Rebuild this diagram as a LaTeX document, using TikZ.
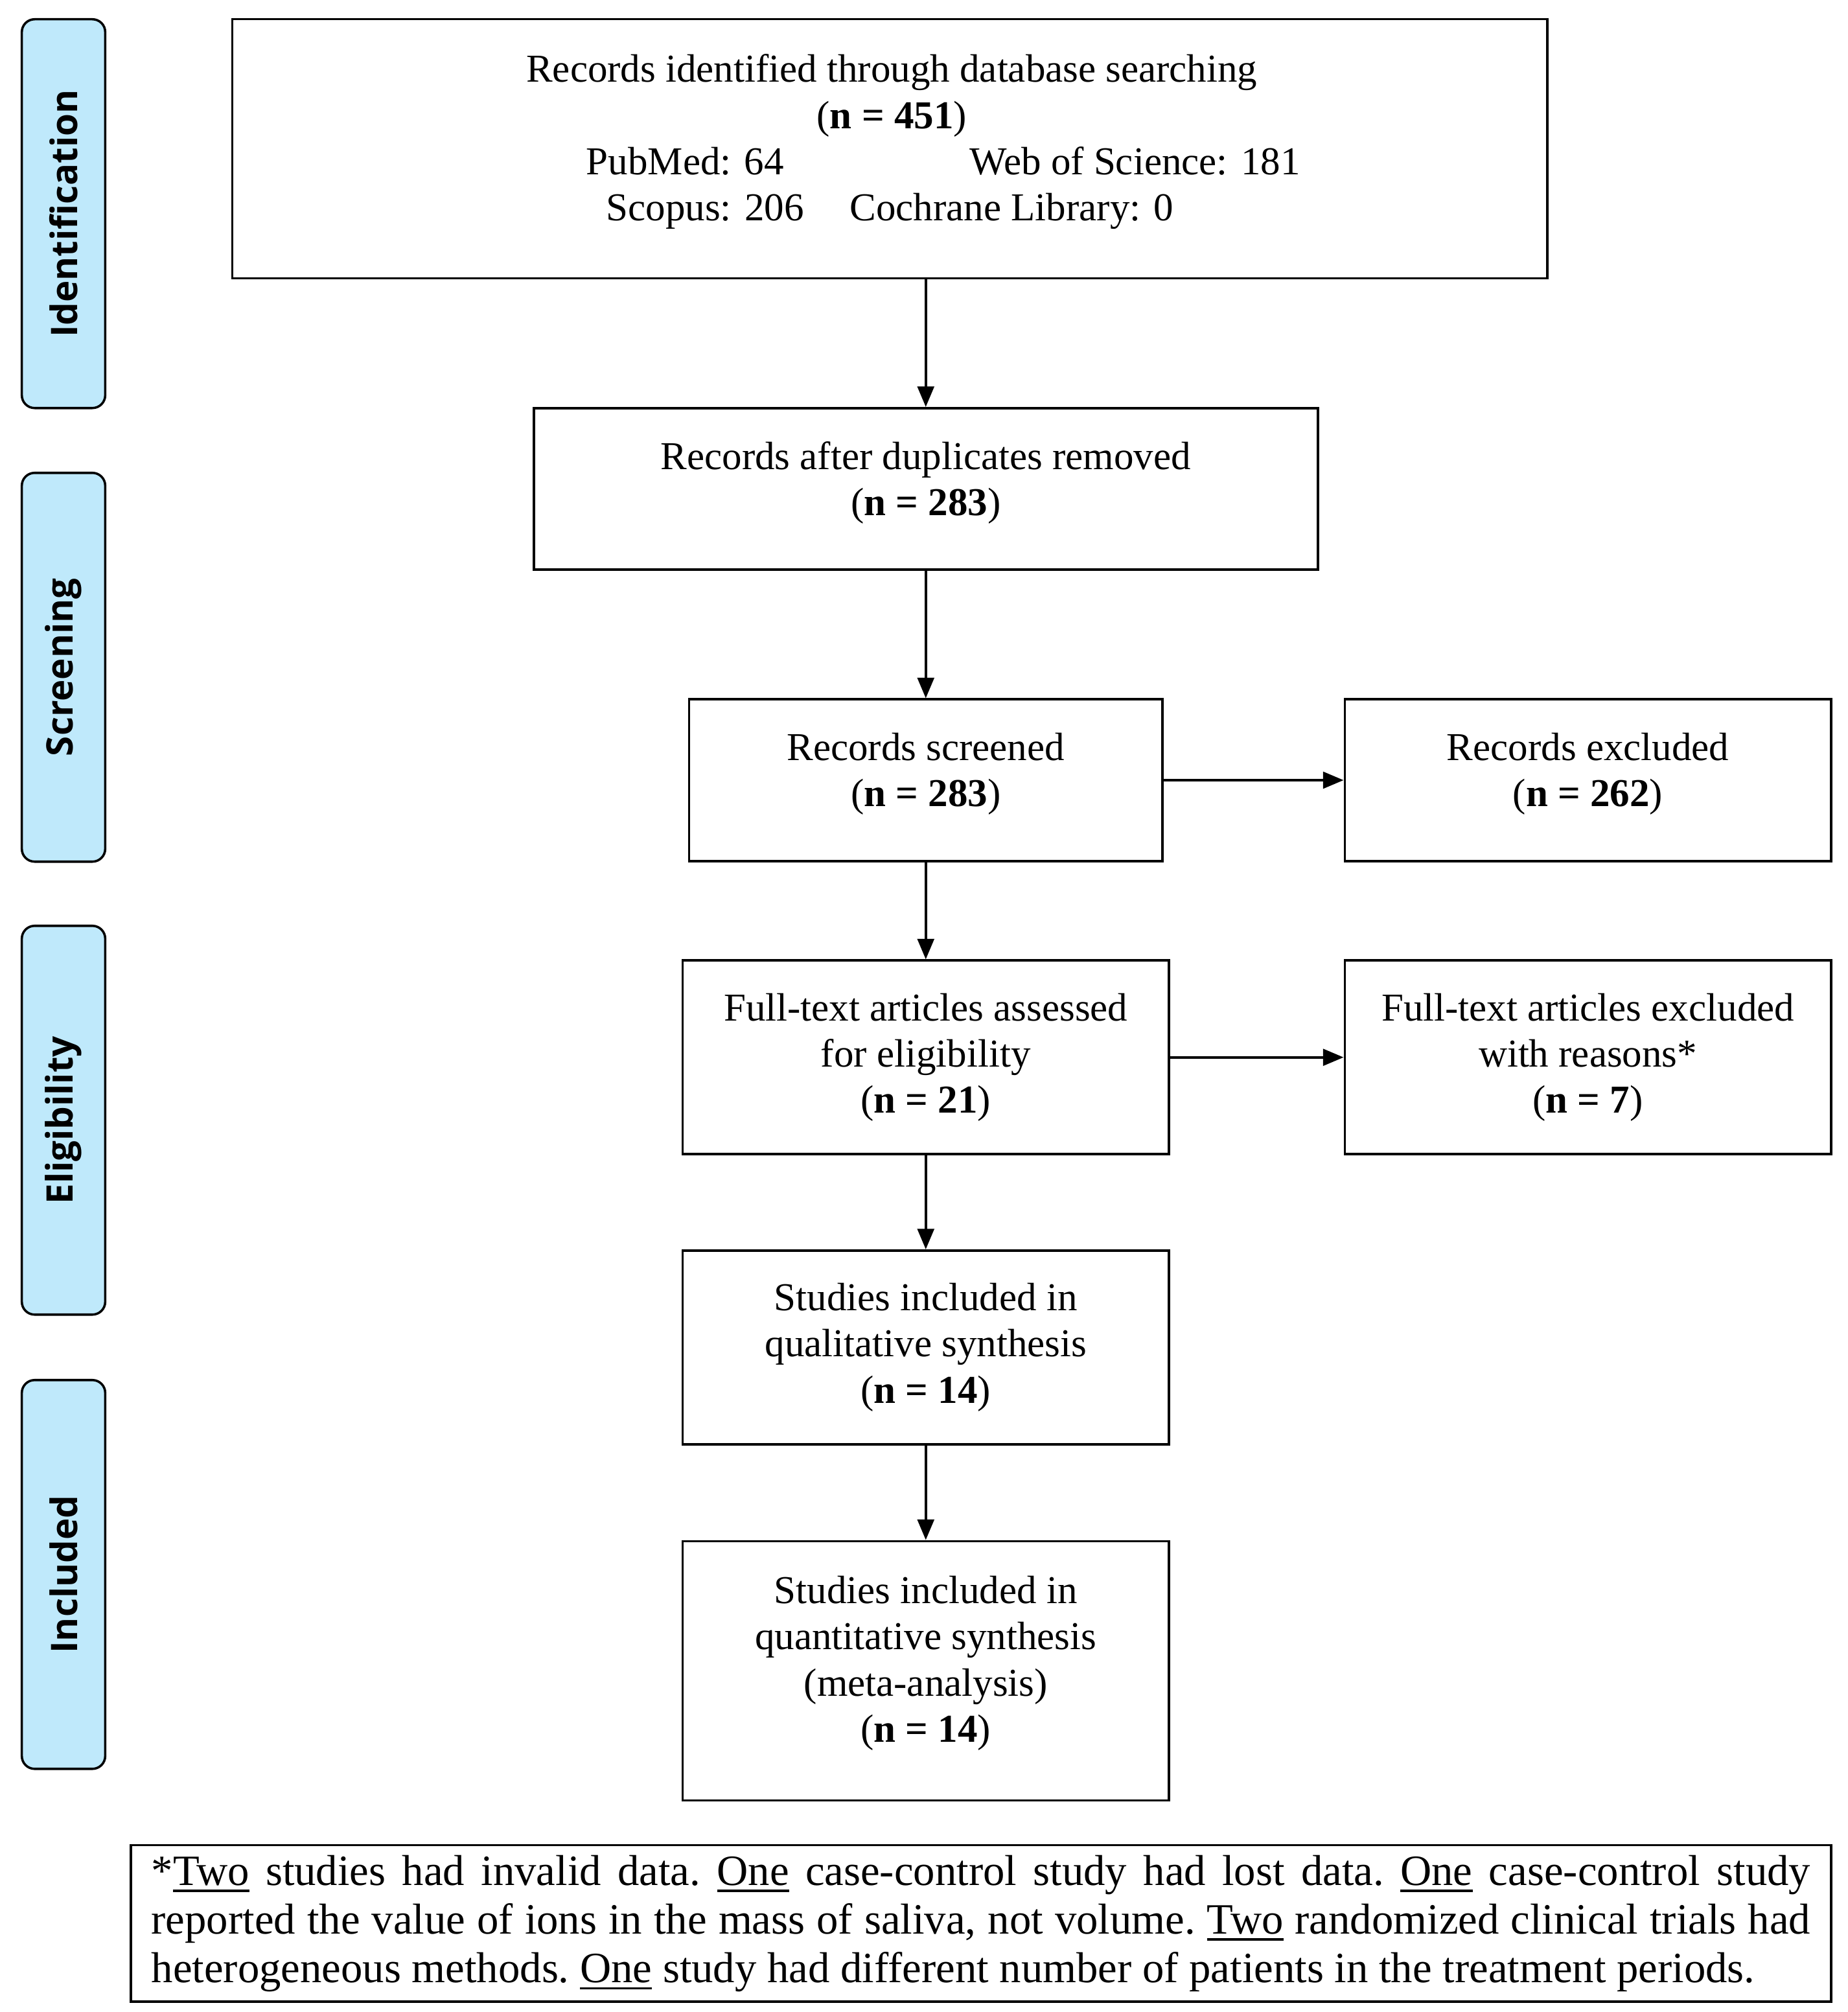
\documentclass[tikz,border=0pt]{standalone}
\usepackage{fontspec}
\setmainfont{Liberation Serif}
\newfontfamily\sidefont{Open Sans}
\usetikzlibrary{arrows.meta}
\definecolor{sideblue}{RGB}{191,233,251}
\newcommand\myul[1]{\setbox0\hbox{#1}\rlap{\rule[-5.5pt]{\wd0}{2pt}}\box0\relax}
\tikzset{
  flowbox/.style={draw, line width=1.8pt, inner sep=0pt, align=center,
    font=\fontsize{30.8}{36}\selectfont},
  txt/.style={inner sep=0pt, font=\fontsize{30.8}{36}\selectfont, anchor=base},
  sidebox/.style={draw, line width=1.8pt, fill=sideblue, rounded corners=10pt,
    rotate=90, minimum width=303pt, minimum height=65pt, inner sep=0pt,
    font=\sidefont\bfseries\fontsize{28.5}{30}\selectfont},
  conn/.style={line width=1.8pt, -{Triangle[length=16pt,width=13pt]}},
}
\begin{document}
\begin{tikzpicture}[x=1pt,y=-1pt]
\useasboundingbox (0,0) rectangle (1440,1568);
\fill[white] (0,0) rectangle (1440,1568);

% side labels
\node[sidebox] (sIdent) at (49.5,166.5) {Identification};
\node[sidebox] (sScreen) at (49.5,520) {Screening};
\node[sidebox] (sElig) at (49.5,873) {Eligibility};
\node[sidebox] (sIncl) at (49.5,1227) {Included};

% box 1
\node[flowbox, minimum width=1025pt, minimum height=202pt] (b1) at (693.5,116) {};
\node[txt] (t1a) at (695,64) {Records identified through database searching};
\node[txt] (t1b) at (695,100) {(\textbf{n = 451})};
\node[txt] (t1c) at (534,136) {PubMed: 64};
\node[txt] (t1d) at (884.5,136) {Web of Science: 181};
\node[txt] (t1e) at (549.5,172) {Scopus: 206};
\node[txt] (t1f) at (788.5,172) {Cochrane Library: 0};

% other boxes
\node[flowbox, minimum width=611pt, minimum height=126pt, text depth=16pt] (b2) at (721.5,381)
  {Records after duplicates removed\\(\textbf{n = 283})};
\node[flowbox, minimum width=369pt, minimum height=126pt, text depth=16pt] (b3) at (721.5,608)
  {Records screened\\(\textbf{n = 283})};
\node[flowbox, minimum width=379pt, minimum height=126pt, text depth=16pt] (b4) at (1237.5,608)
  {Records excluded\\(\textbf{n = 262})};
\node[flowbox, minimum width=379pt, minimum height=151pt] (b5) at (721.5,824)
  {Full-text articles assessed\\for eligibility\\(\textbf{n = 21})};
\node[flowbox, minimum width=379pt, minimum height=151pt] (b6) at (1237.5,824)
  {Full-text articles excluded\\with reasons*\\(\textbf{n = 7})};
\node[flowbox, minimum width=379pt, minimum height=151pt] (b7) at (721.5,1050)
  {Studies included in\\qualitative synthesis\\(\textbf{n = 14})};
\node[flowbox, minimum width=379pt, minimum height=202pt, text depth=18pt] (b8) at (721.5,1302)
  {Studies included in\\quantitative synthesis\\(meta-analysis)\\(\textbf{n = 14})};

% footnote
\node[draw, line width=1.8pt, text width=1293pt, inner xsep=16pt, inner ysep=0pt,
  minimum height=122pt, align=justify, font=\fontsize{33.7}{38}\selectfont\frenchspacing] (fn) at (764.5,1499)
  {*\myul{Two} studies had invalid data. \myul{One} case-control study had lost data. \myul{One} case-control study\linebreak
   reported the value of ions in the mass of saliva, not volume. \myul{Two} randomized clinical trials had\linebreak
   heterogeneous methods. \myul{One} study had different number of patients in the treatment periods.};

% connectors
\draw[conn] (b2.north |- b1.south) -- (b2.north);
\draw[conn] (b2.south) -- (b3.north);
\draw[conn] (b3.east) -- (b4.west);
\draw[conn] (b3.south) -- (b5.north);
\draw[conn] (b5.east) -- (b6.west);
\draw[conn] (b5.south) -- (b7.north);
\draw[conn] (b7.south) -- (b8.north);
\end{tikzpicture}
\end{document}
